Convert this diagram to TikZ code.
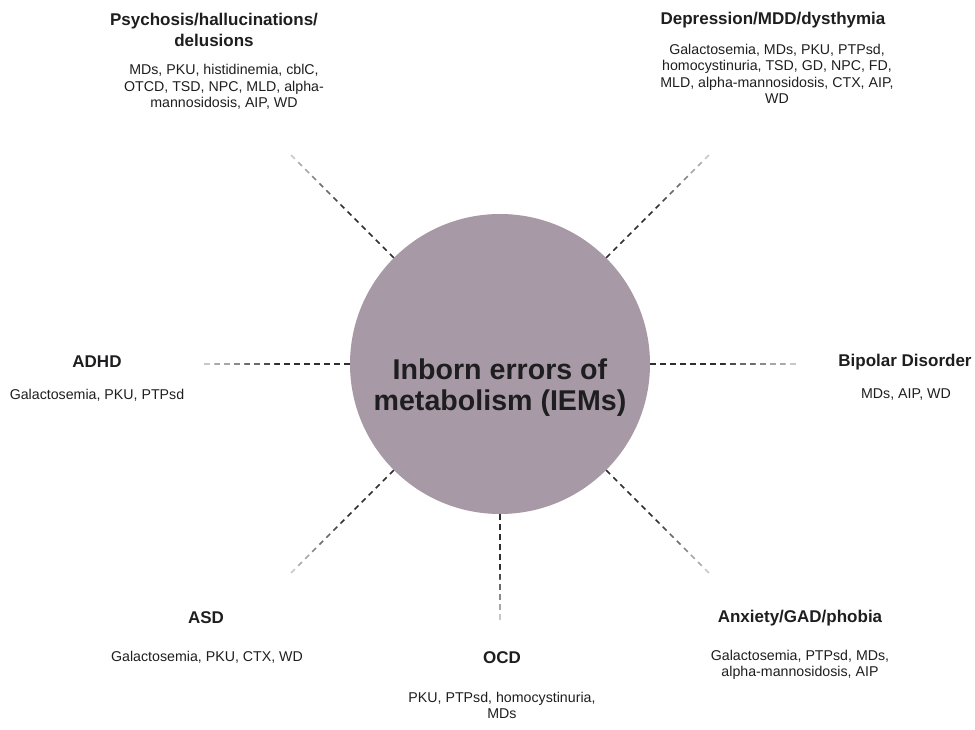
\documentclass[tikz,border=0pt]{standalone}
\usepackage{fontspec}
\setmainfont{Liberation Sans}
\usetikzlibrary{calc}
\definecolor{iemfill}{RGB}{167,153,165}
\definecolor{inkgray}{RGB}{30,30,32}
\tikzset{
  disorder/.style={font=\fontsize{17}{21}\selectfont\bfseries, text=inkgray, align=center, inner sep=0pt},
  iemlist/.style={font=\fontsize{14.2}{16.5}\selectfont, text=inkgray, align=center, inner sep=0pt},
  spoke/.style={line width=1.5pt, dash pattern=on 5.5pt off 4.5pt},
}
\begin{document}
\begin{tikzpicture}[x=1pt,y=1pt]
\useasboundingbox (0,0) rectangle (975,729);
\node[circle, fill=iemfill, minimum size=300pt, inner sep=0pt] (iem) at (500,365) {};
\node[font=\fontsize{28.6}{31}\selectfont\bfseries, text=inkgray, align=center] (iemtext) at (500,341) {Inborn errors of\\metabolism (IEMs)};
% dashed spokes, fading out towards the outer end
\foreach \ang/\len/\nm in {0/300/bip, 45/300/dep, 135/300/psy, 180/300/adhd, 225/300/asd, 270/259/ocd, 315/300/anx} {
  \coordinate (\nm-end) at ($(iem.center)+(\ang:\len)$);
  \pgfmathsetmacro\seg{(\len-150)/10}
  \foreach \k in {0,...,9} {
    \pgfmathtruncatemacro\shade{\k<5 ? 82 : 82-12*(\k-4)}
    \pgfmathsetmacro\ph{\k*\seg}
    \draw[spoke, draw=black!\shade, dash phase=\ph pt] ($(iem.\ang)!{\k/10}!(\nm-end)$) -- ($(iem.\ang)!{(\k+1)/10}!(\nm-end)$);
  }
}
\node[disorder] (psy) at (214,699) {Psychosis/hallucinations/\\delusions};
\node[iemlist] (psylist) at (224,642) {MDs, PKU, histidinemia, cblC,\\OTCD, TSD, NPC, MLD, alpha-\\mannosidosis, AIP, WD};
\node[disorder] (dep) at (773,709) {Depression/MDD/dysthymia};
\node[iemlist] (deplist) at (777,655) {Galactosemia, MDs, PKU, PTPsd,\\homocystinuria, TSD, GD, NPC, FD,\\MLD, alpha-mannosidosis, CTX, AIP,\\WD};
\node[disorder] (adhd) at (97,367) {ADHD};
\node[iemlist] (adhdlist) at (97,334) {Galactosemia, PKU, PTPsd};
\node[disorder] (bip) at (905,367) {Bipolar Disorder};
\node[iemlist] (biplist) at (906,334) {MDs, AIP, WD};
\node[disorder] (asd) at (206,111) {ASD};
\node[iemlist] (asdlist) at (207,72) {Galactosemia, PKU, CTX, WD};
\node[disorder] (ocd) at (502,71) {OCD};
\node[iemlist] (ocdlist) at (502,23.5) {PKU, PTPsd, homocystinuria,\\MDs};
\node[disorder] (anx) at (800,111) {Anxiety/GAD/phobia};
\node[iemlist] (anxlist) at (800,64) {Galactosemia, PTPsd, MDs,\\alpha-mannosidosis, AIP};
\end{tikzpicture}
\end{document}
